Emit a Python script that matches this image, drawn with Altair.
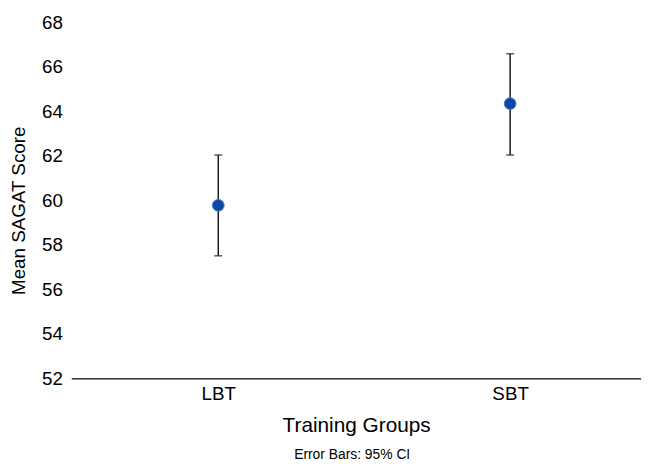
import altair as alt
import pandas as pd

groups = ["LBT", "SBT"]
means = [59.78, 64.35]
lower = [57.51, 62.04]
upper = [62.04, 66.59]

df = pd.DataFrame({"group": groups, "mean": means, "lo": lower, "hi": upper})

FONT = "Liberation Sans"

x = alt.X("group:N", title="Training Groups", sort=groups,
          scale=alt.Scale(type="point", padding=0.476, align=0.529),
          axis=alt.Axis(labelAngle=0, labelFontSize=19, titleFontSize=21,
                        labelFont=FONT, titleFont=FONT, labelColor="black",
                        titleColor="black", ticks=False, domain=True,
                        domainColor="black", domainWidth=1.2, labelPadding=6,
                        titlePadding=12, titleFontWeight="normal"))
yscale = alt.Scale(domain=[52, 68], nice=False, zero=False)
y_axis = alt.Axis(values=list(range(52, 69, 2)), labelFontSize=19, titleFontSize=19,
                  labelFont=FONT, titleFont=FONT, labelColor="black", titleColor="black",
                  ticks=False, domain=False, grid=False, labelPadding=9,
                  titlePadding=13, titleFontWeight="normal", titleY=190)

base = alt.Chart(df)

rule = base.mark_rule(color="#1a1a1a", strokeWidth=1.5).encode(
    x=x,
    y=alt.Y("lo:Q", scale=yscale, axis=y_axis, title="Mean SAGAT Score"),
    y2="hi:Q",
)
cap_lo = base.mark_tick(color="#1a1a1a", size=8, thickness=1.5, orient="horizontal").encode(
    x=x, y=alt.Y("lo:Q", scale=yscale))
cap_hi = base.mark_tick(color="#1a1a1a", size=8, thickness=1.5, orient="horizontal").encode(
    x=x, y=alt.Y("hi:Q", scale=yscale))
pts = base.mark_circle(size=140, opacity=1, color="#0b48a8", stroke="#4a78c4",
                       strokeWidth=1).encode(
    x=x, y=alt.Y("mean:Q", scale=yscale))

chart = alt.layer(rule, cap_lo, cap_hi, pts).properties(
    width=576, height=360,
    autosize=alt.AutoSizeParams(type="none"),
    padding={"left": 64, "top": 12, "right": 0, "bottom": 86},
    title=alt.TitleParams("Error Bars: 95% CI", orient="bottom", fontSize=14,
                          fontWeight="normal", font=FONT, color="black",
                          anchor="middle", offset=12, dx=-4),
).configure_view(stroke=None).configure_axis(grid=False)

chart.save("out.html", embed_options={"renderer": "svg", "actions": False})
